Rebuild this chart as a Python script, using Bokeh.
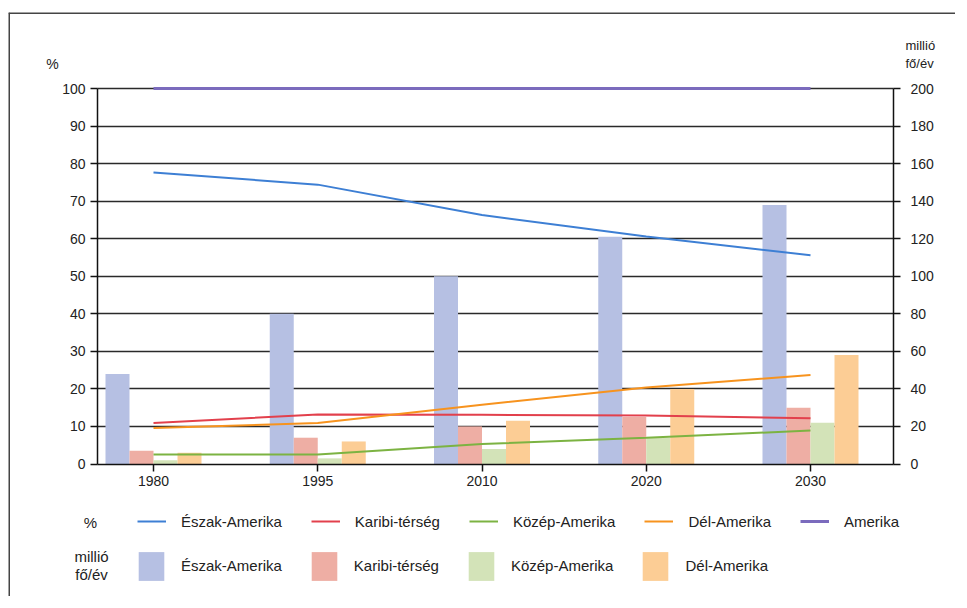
from bokeh.plotting import figure
from bokeh.models import (Range1d, LinearAxis, FixedTicker, Legend, LegendItem,
                          Label, ColumnDataSource, Span)
from bokeh.transform import dodge
from bokeh.embed import file_html
from bokeh.resources import INLINE

# ---- data ----
years = ["1980", "1995", "2010", "2020", "2030"]
# percent (left axis, lines)
pct_eszak = [77.6, 74.4, 66.3, 60.6, 55.6]
pct_karibi = [10.9, 13.2, 13.1, 12.9, 12.2]
pct_kozep = [2.5, 2.5, 5.3, 7.0, 8.9]
pct_del = [9.6, 10.9, 15.8, 20.4, 23.7]
pct_amerika = [100, 100, 100, 100, 100]
# million persons / year (right axis, bars)
mil_eszak = [48, 80, 100, 121, 138]
mil_karibi = [7, 14, 20, 25, 30]
mil_kozep = [2, 3, 8, 14, 22]
mil_del = [6, 12, 23, 40, 58]

pct_ticks = list(range(0, 101, 10))
mil_ticks = list(range(0, 201, 20))

line_names = ["Észak-Amerika", "Karibi-térség", "Közép-Amerika", "Dél-Amerika", "Amerika"]
bar_names = ["Észak-Amerika", "Karibi-térség", "Közép-Amerika", "Dél-Amerika"]

line_colors = ["#3d7fd4", "#e2404c", "#7cb342", "#f7931e", "#7b6bbd"]
bar_colors = ["#b6c0e3", "#eeaea4", "#d3e3b8", "#fccd95"]

FONT = "Liberation Sans"
idx = list(range(len(years)))

# ---- layout geometry (pixels) ----
W, H = 955, 596
FL, FT = 8, 12            # outer frame left / top
AX_L, AX_R = 97, 893      # plot axes x positions
Y100, Y0 = 88, 463.5      # pixel rows of 100 % and 0 %
X0, DX = 153, 164.25      # pixel of first category, category spacing

pxu_y = (Y0 - Y100) / 100.0
x_start = -(X0 - FL) / DX
x_end = (W - X0) / DX
y_end = 100 + (Y100 - FT) / pxu_y
y_start = -(H - Y0) / pxu_y
x_axl = -(X0 - AX_L) / DX
x_axr = (AX_R - X0) / DX

src = ColumnDataSource(dict(x=idx, pe=pct_eszak, pk=pct_karibi, pz=pct_kozep,
                            pd=pct_del, pa=pct_amerika, me=mil_eszak, mk=mil_karibi,
                            mz=mil_kozep, md=mil_del))

p = figure(width=W, height=H, output_backend="svg", toolbar_location=None, title=None,
           x_range=Range1d(x_start, x_end), y_range=Range1d(y_start, y_end),
           min_border_left=FL, min_border_right=0, min_border_top=FT,
           min_border_bottom=0)
p.outline_line_color = None
p.background_fill_color = "white"
p.border_fill_color = "white"
p.extra_y_ranges = {"mil": Range1d(2 * y_start, 2 * y_end)}

# outer frame (left and top edges)
p.add_layout(Span(location=x_start, dimension="height", line_color="#444", line_width=3))
p.add_layout(Span(location=y_end, dimension="width", line_color="#444", line_width=3))

# grid lines (behind bars)
p.xgrid.visible = False
g = p.ygrid[0]
g.ticker = FixedTicker(ticks=pct_ticks[1:])
g.grid_line_color = "#2a2a2a"
g.grid_line_width = 1.5
if "cross_bounds" in g.properties():
    g.cross_bounds = (x_axl, x_axr)
else:
    g.visible = False
    p.segment(x0=[x_axl] * len(pct_ticks), x1=[x_axr] * len(pct_ticks), y0=pct_ticks,
              y1=pct_ticks, line_color="#2a2a2a", line_width=1.5, level="underlay")

# bars
bw = 24 / DX
bar_fields = ["me", "mk", "mz", "md"]
offs = [-1.5 * bw, -0.5 * bw, 0.5 * bw, 1.5 * bw]
bar_r = []
for f, o, c in zip(bar_fields, offs, bar_colors):
    r = p.vbar(x=dodge("x", o), top=f, width=bw, source=src, y_range_name="mil",
               fill_color=c, line_color=None)
    bar_r.append(r)

# lines
line_fields = ["pe", "pk", "pz", "pd", "pa"]
line_r = []
for f, c in zip(line_fields, line_colors):
    r = p.line(x="x", y=f, source=src, line_color=c,
               line_width=3 if f == "pa" else 2)
    line_r.append(r)

# axes
xa = p.xaxis[0]
xa.ticker = FixedTicker(ticks=idx)
xa.major_label_overrides = {i: y for i, y in zip(idx, years)}
xa.fixed_location = 0
xa.bounds = (x_axl, x_axr)

ya = p.yaxis[0]
ya.ticker = FixedTicker(ticks=pct_ticks)
ya.fixed_location = x_axl
ya.bounds = (0, 100)

right = LinearAxis(y_range_name="mil", ticker=FixedTicker(ticks=mil_ticks))
right.fixed_location = x_axr
right.bounds = (0, 200)
p.add_layout(right, "right")

for ax in [xa, ya, right]:
    ax.axis_line_color = "#111"
    ax.axis_line_width = 1.5
    ax.major_tick_line_color = "#111"
    ax.major_tick_line_width = 1.5
    ax.major_tick_out = 7
    ax.major_tick_in = 0
    ax.minor_tick_line_color = None
    ax.major_label_text_font = FONT
    ax.major_label_text_font_size = "14px"
    ax.major_label_text_color = "#222"
    ax.major_label_standoff = 5
right.major_label_standoff = 10

# legends (inside the frame, offsets from frame bottom-left)
common = dict(orientation="horizontal", margin=0, padding=0,
              border_line_color=None, background_fill_alpha=0,
              label_text_font=FONT, label_text_font_size="15px", label_text_color="#222")
leg1 = Legend(items=[LegendItem(label=n, renderers=[r]) for n, r in zip(line_names, line_r)],
              location=(137 - FL, H - 512 - 18), label_standoff=15, spacing=29,
              glyph_width=29, glyph_height=18, label_height=18, **common)
leg2 = Legend(items=[LegendItem(label=n, renderers=[r]) for n, r in zip(bar_names, bar_r)],
              location=(135 - FL, H - 547.5 - 36), label_standoff=14, spacing=26,
              glyph_width=32, glyph_height=36, label_height=18, **common)
p.add_layout(leg1)
p.add_layout(leg2)

# unit labels
def lab(px, py, t, align="center", size="14px"):
    p.add_layout(Label(x=px - FL, y=H - py, x_units="screen", y_units="screen", text=t,
                       text_align=align, text_baseline="middle", text_font=FONT,
                       text_font_size=size, text_color="#222"))

lab(52, 63, "%")
lab(905, 45, "millió", align="left", size="13px")
lab(905, 63, "fő/év", align="left", size="13px")
lab(90, 522, "%", size="15px")
lab(91, 556, "millió", size="15px")
lab(91, 574, "fő/év", size="15px")

open("out.html", "w").write(file_html(p, INLINE))
